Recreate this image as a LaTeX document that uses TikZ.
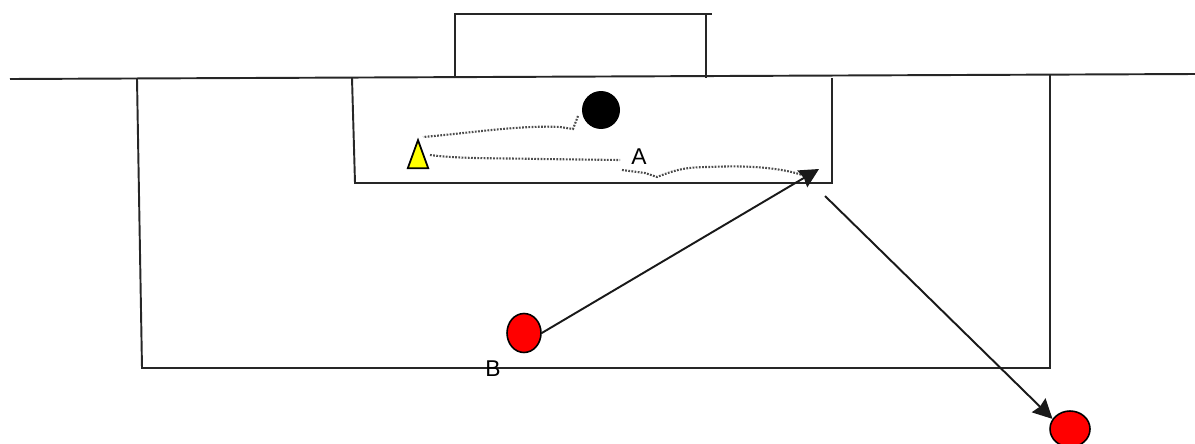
\documentclass[tikz,border=0pt]{standalone}
\usepackage{fontspec}
\setmainfont{Liberation Sans}
\usepackage{xcolor}
\usetikzlibrary{arrows.meta,shapes.geometric}
\definecolor{PitchLine}{HTML}{262626}
\definecolor{PlayerRed}{HTML}{FF0000}
\definecolor{ConeYellow}{HTML}{FFFF00}
\tikzset{
  pitchline/.style={draw=PitchLine,line width=1.1pt},
  runline/.style={draw=black!70,line width=1.2pt,dash pattern=on 1pt off 0.8pt},
  passline/.style={draw=black!90,line width=1.1pt,-{Stealth[length=11pt,width=11pt,inset=1pt]}},
  playerdot/.style={ellipse,draw=black,line width=0.9pt,fill=PlayerRed,inner sep=0pt,minimum width=0.68cm,minimum height=0.78cm},
  balldot/.style={circle,fill=black,inner sep=0pt,minimum size=0.76cm},
  conemark/.style={isosceles triangle,isosceles triangle apex angle=40,shape border rotate=90,draw=black,line width=1pt,fill=ConeYellow,inner sep=0pt,minimum height=0.56cm,minimum width=0.4cm},
  letterlabel/.style={font=\fontsize{13}{15}\selectfont,text=black,inner sep=0pt}
}
\begin{document}
\begin{tikzpicture}[x=0.02cm,y=-0.02cm]
    \useasboundingbox (0,0) rectangle (1195,443);
    % Pitch lines
    \draw[pitchline] (10,79) -- (1195,74);
    \draw[pitchline] (137,79) -- (142,368) -- (1050,368) -- (1050,75);
    \draw[pitchline] (352,78) -- (355,183) -- (832,183) -- (832,78);
    \draw[pitchline] (455,78) -- (455,14) -- (712,14);
    \draw[pitchline] (706,14) -- (706,78);

    % Players and marks
    \node[balldot]   (ball)     at (601,110) {};
    \node[conemark]  (cone)     at (418,161) {};
    \node[playerdot] (playerB)  at (524,333) {};
    \node[playerdot,minimum width=0.8cm,minimum height=0.72cm] (playerC) at (1070,429) {};
    \node[letterlabel] (labelA) at (639,157) {A};
    \node[letterlabel] (labelB) at (493,369) {B};

    % Free ends
    \coordinate (passEnd)   at (819,169);
    \coordinate (passStart) at (825,196);

    % Runs
    \draw[runline] (578,116) -- (573,129) -- (560,127) .. controls (520,125) and (470,133) .. (423,137);
    \draw[runline] (430,155) .. controls (460,159) and (500,158) .. (540,159) -- (620,160);
    \draw[runline] (622,170) -- (645,173) -- (657,177) .. controls (675,170) and (685,167) .. (710,167)
      .. controls (750,165) and (785,168) .. (808,177);

    % Passes
    \draw[passline] (playerB.east) -- (passEnd);
    \draw[passline] (passStart) -- (playerC.150);
\end{tikzpicture}
\end{document}
